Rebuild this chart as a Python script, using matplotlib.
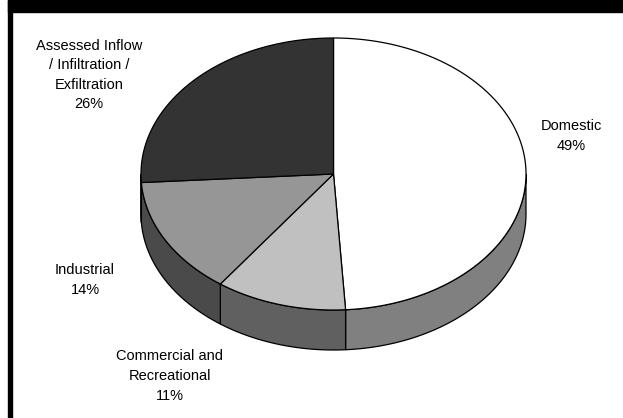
import numpy as np
import matplotlib
matplotlib.use("Agg")
import matplotlib.pyplot as plt
from matplotlib.patches import Polygon, Rectangle

# Share of flow by source, clockwise from 12 o'clock
labels = ["Domestic\n49%", "Commercial and\nRecreational\n11%", "Industrial\n14%",
          "Assessed Inflow\n/ Infiltration /\nExfiltration\n26%"]
shares = [49, 11, 14, 26]
top_colors = ["#ffffff", "#c0c0c0", "#969696", "#333333"]
side_colors = ["#808080", "#606060", "#4a4a4a", "#262626"]
label_pos = [(571, 136), (170, 376), (85, 280), (89, 75)]

# pie geometry in pixel units
cx, cy = 333.5, 174.0
rx, ry = 192.5, 136.0
depth = 40.0


def ellipse_pts(t0, t1, dy=0.0, n=200):
    t = np.radians(np.linspace(t0, t1, n))
    return np.column_stack([cx + rx * np.sin(t), cy - ry * np.cos(t) + dy])


fig = plt.figure(figsize=(6.23, 4.18), dpi=100)
ax = fig.add_axes([0, 0, 1, 1])
ax.set_xlim(0, 623)
ax.set_ylim(418, 0)
ax.axis("off")

# black frame: band at top and bar down the left
ax.add_patch(Rectangle((8, 0), 615, 11.5, color="black", zorder=5))
ax.add_patch(Rectangle((8, 0), 3.5, 418, color="black", zorder=5))

bounds = np.concatenate([[0], np.cumsum(shares)]) / sum(shares) * 360.0

# side walls for the front half of the pie
for i in range(len(shares)):
    t0, t1 = max(bounds[i], 90), min(bounds[i + 1], 270)
    if t1 <= t0:
        continue
    top = ellipse_pts(t0, t1)
    bot = ellipse_pts(t0, t1, depth)[::-1]
    ax.add_patch(Polygon(np.vstack([top, bot]), closed=True, facecolor=side_colors[i],
                         edgecolor="black", linewidth=0.9, zorder=2))

# top faces
for i in range(len(shares)):
    arc = ellipse_pts(bounds[i], bounds[i + 1])
    pts = np.vstack([[cx, cy], arc])
    ax.add_patch(Polygon(pts, closed=True, facecolor=top_colors[i],
                         edgecolor="black", linewidth=0.9, zorder=3))

for text, (x, y) in zip(labels, label_pos):
    ax.text(x, y, text, ha="center", va="center", fontsize=10.5,
            family="Liberation Sans", linespacing=1.5, color="black")

fig.savefig("out.png", dpi=100)
